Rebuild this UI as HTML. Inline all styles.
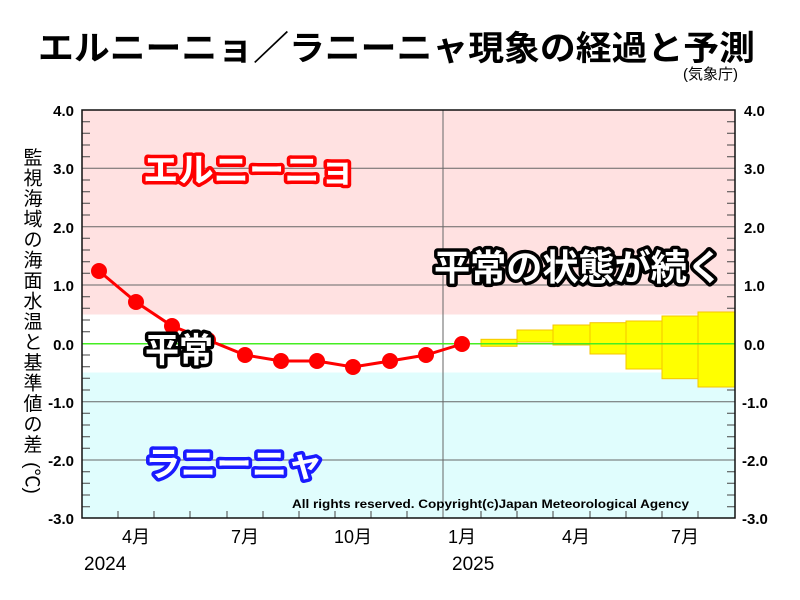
<!DOCTYPE html>
<html><head><meta charset="utf-8"><style>
body{margin:0;background:#fff}
svg{display:block}
text{font-family:"Liberation Sans","Noto Sans CJK JP",sans-serif}
</style></head><body>
<svg width="800" height="600" viewBox="0 0 800 600" xmlns="http://www.w3.org/2000/svg">
<rect width="800" height="600" fill="#fff"/>
<text x="38" y="60" font-size="34" font-weight="bold" textLength="717" lengthAdjust="spacingAndGlyphs">エルニーニョ／ラニーニャ現象の経過と予測</text>
<text x="683" y="79" font-size="15">(気象庁)</text>
<!-- bands -->
<rect x="82" y="110" width="653" height="204.5" fill="#ffe1e1"/>
<rect x="82" y="372.5" width="653" height="145.5" fill="#e0fdfd"/>
<!-- grid -->
<g stroke="#666" stroke-width="1">
<line x1="82" y1="168.3" x2="735" y2="168.3"/>
<line x1="82" y1="226.7" x2="735" y2="226.7"/>
<line x1="82" y1="285" x2="735" y2="285"/>
<line x1="82" y1="401.7" x2="735" y2="401.7"/>
<line x1="82" y1="460" x2="735" y2="460"/>
<line x1="443" y1="110" x2="443" y2="518"/>
</g>
<g stroke="#444" stroke-width="1">
<path d="M82 121.7h8M82 133.3h8M82 145h8M82 156.7h8M82 180h8M82 191.7h8M82 203.3h8M82 215h8M82 238.3h8M82 250h8M82 261.7h8M82 273.3h8M82 296.7h8M82 308.3h8M82 320h8M82 331.7h8M82 355h8M82 366.7h8M82 378.3h8M82 390h8M82 413.3h8M82 425h8M82 436.7h8M82 448.3h8M82 471.7h8M82 483.3h8M82 495h8M82 506.7h8"/>
<path d="M735 121.7h-8M735 133.3h-8M735 145h-8M735 156.7h-8M735 180h-8M735 191.7h-8M735 203.3h-8M735 215h-8M735 238.3h-8M735 250h-8M735 261.7h-8M735 273.3h-8M735 296.7h-8M735 308.3h-8M735 320h-8M735 331.7h-8M735 355h-8M735 366.7h-8M735 378.3h-8M735 390h-8M735 413.3h-8M735 425h-8M735 436.7h-8M735 448.3h-8M735 471.7h-8M735 483.3h-8M735 495h-8M735 506.7h-8"/>
<path d="M118 518v-7M154 518v-7M190 518v-7M227 518v-7M263 518v-7M299 518v-7M335 518v-7M371 518v-7M407 518v-7M481 518v-7M517 518v-7M553 518v-7M590 518v-7M626 518v-7M662 518v-7M698 518v-7"/>
</g>
<!-- forecast boxes -->
<g fill="#ffff00" stroke="#f5c400" stroke-width="1">
<rect x="481" y="339.3" width="36" height="7"/>
<rect x="517" y="330" width="36" height="12"/>
<rect x="553" y="325" width="37" height="20"/>
<rect x="590" y="322.7" width="36" height="31.3"/>
<rect x="626" y="321" width="36" height="48"/>
<rect x="662" y="316" width="36" height="62.7"/>
<rect x="698" y="312" width="37" height="75"/>
</g>
<line x1="82" y1="343.7" x2="735" y2="343.7" stroke="#44ee22" stroke-width="1.5"/>
<!-- observed -->
<polyline fill="none" stroke="#ff0000" stroke-width="3" points="99,271 136,302 172,326 208,340 245,355 281,361 317,361 353,367 390,361 426,355 462,344"/>
<g fill="#ff0000">
<circle cx="99" cy="271" r="8"/><circle cx="136" cy="302" r="8"/><circle cx="172" cy="326" r="8"/><circle cx="208" cy="340" r="8"/><circle cx="245" cy="355" r="8"/><circle cx="281" cy="361" r="8"/><circle cx="317" cy="361" r="8"/><circle cx="353" cy="367" r="8"/><circle cx="390" cy="361" r="8"/><circle cx="426" cy="355" r="8"/><circle cx="462" cy="344" r="8"/>
</g>
<rect x="82" y="110" width="653" height="408" fill="none" stroke="#111" stroke-width="1.5"/>
<!-- labels -->
<text x="143" y="182" font-size="34" font-weight="bold" fill="#fff" stroke="#ff0000" stroke-width="7" stroke-linejoin="round" paint-order="stroke" textLength="212" lengthAdjust="spacingAndGlyphs">エルニーニョ</text>
<text x="434" y="280" font-size="36" font-weight="bold" fill="#fff" stroke="#000" stroke-width="7" stroke-linejoin="round" paint-order="stroke" textLength="289" lengthAdjust="spacingAndGlyphs">平常の状態が続く</text>
<text x="145" y="362" font-size="34" font-weight="bold" fill="#fff" stroke="#000" stroke-width="7" stroke-linejoin="round" paint-order="stroke">平常</text>
<text x="145" y="476" font-size="34" font-weight="bold" fill="#fff" stroke="#1a1aff" stroke-width="7" stroke-linejoin="round" paint-order="stroke" textLength="178" lengthAdjust="spacingAndGlyphs">ラニーニャ</text>
<text x="292" y="508" font-size="12" font-weight="bold" textLength="397" lengthAdjust="spacingAndGlyphs">All rights reserved. Copyright(c)Japan Meteorological Agency</text>
<!-- y tick labels -->
<g font-size="15" font-weight="bold" text-anchor="end">
<text x="74" y="116">4.0</text><text x="74" y="174">3.0</text><text x="74" y="233">2.0</text><text x="74" y="291">1.0</text><text x="74" y="350">0.0</text><text x="74" y="408">-1.0</text><text x="74" y="466">-2.0</text><text x="74" y="524">-3.0</text>
</g>
<g font-size="15" font-weight="bold" text-anchor="start">
<text x="744" y="116">4.0</text><text x="744" y="174">3.0</text><text x="744" y="233">2.0</text><text x="744" y="291">1.0</text><text x="744" y="350">0.0</text><text x="742" y="408">-1.0</text><text x="742" y="466">-2.0</text><text x="742" y="524">-3.0</text>
</g>
<!-- x labels -->
<g font-size="18" text-anchor="middle">
<text x="136" y="543">4月</text><text x="245" y="543">7月</text><text x="353" y="543">10月</text><text x="462" y="543">1月</text><text x="576" y="543">4月</text><text x="685" y="543">7月</text>
</g>
<text x="84" y="570" font-size="19">2024</text>
<text x="452" y="570" font-size="19">2025</text>
<!-- y axis title -->
<g font-size="19" text-anchor="middle">
<text x="33" y="164">監</text><text x="33" y="184.5">視</text><text x="33" y="205">海</text><text x="33" y="225.5">域</text><text x="33" y="246">の</text><text x="33" y="266.5">海</text><text x="33" y="287">面</text><text x="33" y="307.5">水</text><text x="33" y="328">温</text><text x="33" y="348.5">と</text><text x="33" y="369">基</text><text x="33" y="389.5">準</text><text x="33" y="410">値</text><text x="33" y="430.5">の</text><text x="33" y="451">差</text>
<text x="33" y="485" transform="rotate(90 33 478)">(℃)</text>
</g>
</svg>
</body></html>
